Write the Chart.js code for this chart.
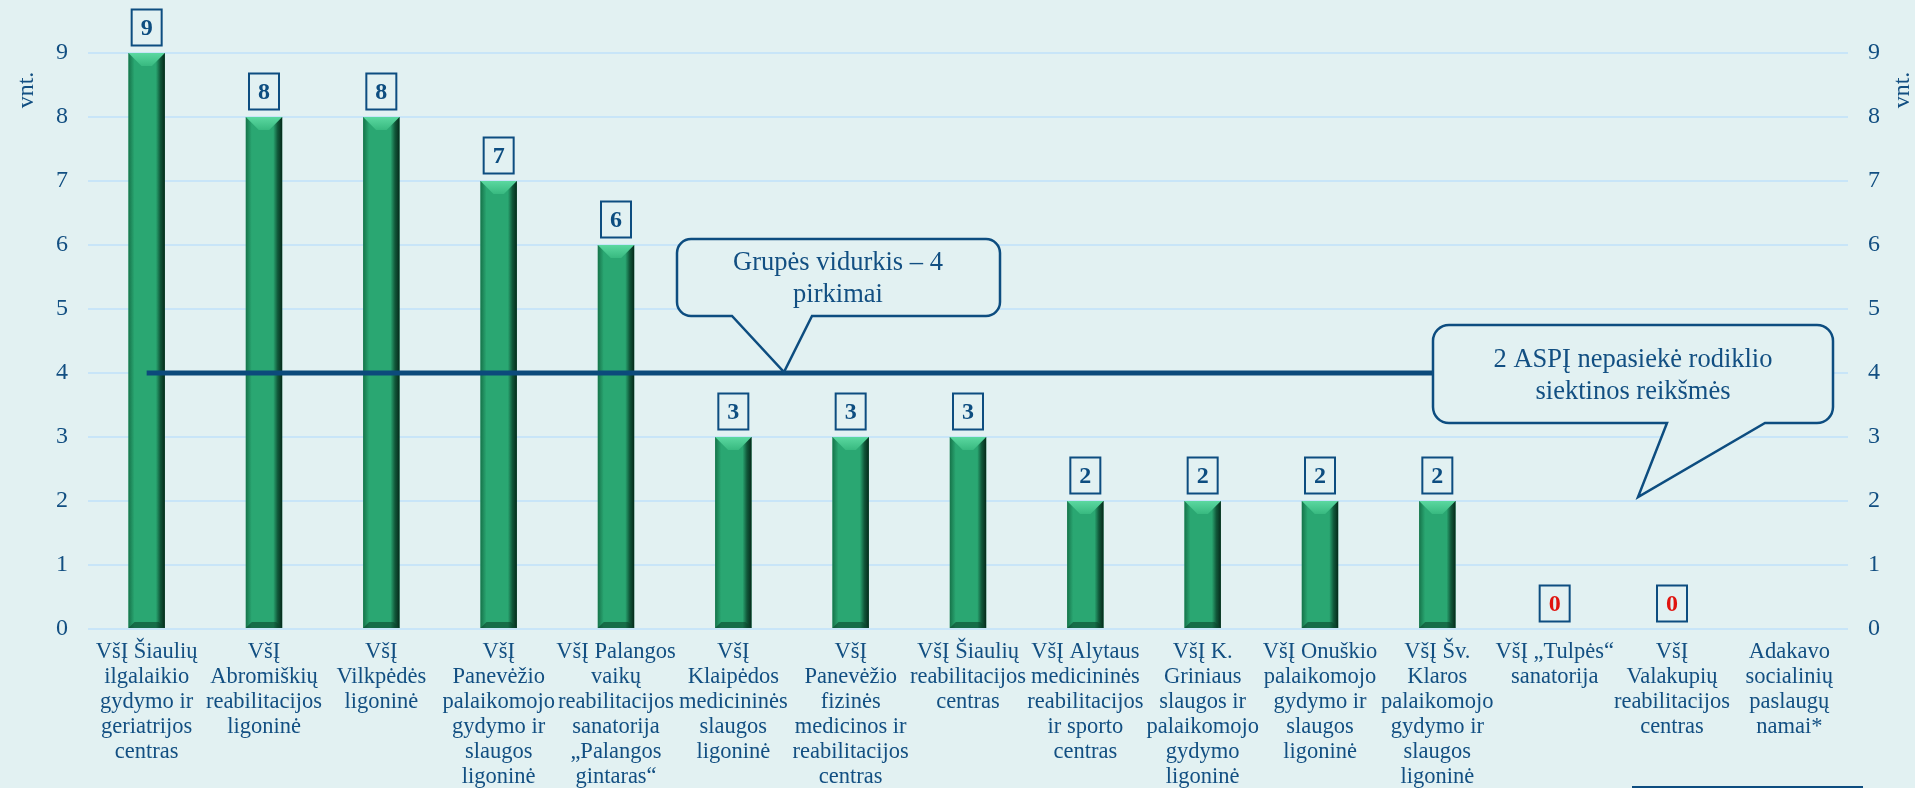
<!DOCTYPE html>
<html>
<head>
<meta charset="utf-8">
<script src="https://cdn.jsdelivr.net/npm/chart.js@4"></script>
<style>
  html, body { margin: 0; padding: 0; background: #e2f1f2; }
  #wrap { width: 1915px; height: 788px; position: relative; }
</style>
</head>
<body>
<div id="wrap"><canvas id="c" width="1915" height="788"></canvas></div>
<script>
const categories = [
  ["VšĮ Šiaulių", "ilgalaikio", "gydymo ir", "geriatrijos", "centras"],
  ["VšĮ", "Abromiškių", "reabilitacijos", "ligoninė"],
  ["VšĮ", "Vilkpėdės", "ligoninė"],
  ["VšĮ", "Panevėžio", "palaikomojo", "gydymo ir", "slaugos", "ligoninė"],
  ["VšĮ Palangos", "vaikų", "reabilitacijos", "sanatorija", "„Palangos", "gintaras“"],
  ["VšĮ", "Klaipėdos", "medicininės", "slaugos", "ligoninė"],
  ["VšĮ", "Panevėžio", "fizinės", "medicinos ir", "reabilitacijos", "centras"],
  ["VšĮ Šiaulių", "reabilitacijos", "centras"],
  ["VšĮ Alytaus", "medicininės", "reabilitacijos", "ir sporto", "centras"],
  ["VšĮ K.", "Griniaus", "slaugos ir", "palaikomojo", "gydymo", "ligoninė"],
  ["VšĮ Onuškio", "palaikomojo", "gydymo ir", "slaugos", "ligoninė"],
  ["VšĮ Šv.", "Klaros", "palaikomojo", "gydymo ir", "slaugos", "ligoninė"],
  ["VšĮ „Tulpės“", "sanatorija"],
  ["VšĮ", "Valakupių", "reabilitacijos", "centras"],
  ["Adakavo", "socialinių", "paslaugų", "namai*"]
];
const purchases = [9, 8, 8, 7, 6, 3, 3, 3, 2, 2, 2, 2, 0, 0, null];
const groupAverage = [4, 4, 4, 4, 4, 4, 4, 4, 4, 4, 4, 4, null, null, null];
const yTicks = [0, 1, 2, 3, 4, 5, 6, 7, 8, 9];
const axisTitle = "vnt.";
const callout1Lines = ["Grupės vidurkis – 4", "pirkimai"];
const callout2Lines = ["2 ASPĮ nepasiekė rodiklio", "siektinos reikšmės"];

const FONT = "'Liberation Serif', 'Times New Roman', serif";
const NAVY = "#0d4d80";
const TEXT = "#124f82";
const BG = "#e2f1f2";

const bgPlugin = {
  id: 'bg',
  beforeDraw(chart) {
    const ctx = chart.ctx;
    ctx.save();
    ctx.fillStyle = BG;
    ctx.fillRect(0, 0, chart.width, chart.height);
    ctx.restore();
  }
};

const bevelPlugin = {
  id: 'bevel',
  afterDatasetDraw(chart, args) {
    if (args.index !== 0) return;
    const ctx = chart.ctx;
    const meta = args.meta;
    ctx.save();
    meta.data.forEach((el, i) => {
      const v = purchases[i];
      if (v === null || v === 0) return;
      const w = el.width;
      const l = el.x - w / 2, r = el.x + w / 2, t = el.y, b = el.base;
      const d = Math.min(13, (b - t) / 2);
      // left face
      let g = ctx.createLinearGradient(l, 0, l + 6, 0);
      g.addColorStop(0, 'rgba(20,110,70,0.9)');
      g.addColorStop(1, 'rgba(20,110,70,0)');
      ctx.fillStyle = g;
      ctx.fillRect(l, t, 6, b - t);
      // right face
      g = ctx.createLinearGradient(r - 9, 0, r, 0);
      g.addColorStop(0, 'rgba(8,60,38,0)');
      g.addColorStop(0.5, 'rgba(8,60,38,0.75)');
      g.addColorStop(1, 'rgba(5,40,25,1)');
      ctx.fillStyle = g;
      ctx.fillRect(r - 9, t, 9, b - t);
      // top bevel
      ctx.beginPath();
      ctx.moveTo(l, t); ctx.lineTo(r, t);
      ctx.lineTo(r - d, t + d); ctx.lineTo(l + d, t + d);
      ctx.closePath();
      g = ctx.createLinearGradient(0, t, 0, t + d);
      g.addColorStop(0, '#5bd8a0');
      g.addColorStop(1, '#38b980');
      ctx.fillStyle = g;
      ctx.fill();
      // bottom bevel
      ctx.beginPath();
      ctx.moveTo(l, b); ctx.lineTo(r, b);
      ctx.lineTo(r - 6, b - 6); ctx.lineTo(l + 6, b - 6);
      ctx.closePath();
      ctx.fillStyle = 'rgba(10,70,45,0.6)';
      ctx.fill();
    });
    ctx.restore();
  }
};

const valueBoxPlugin = {
  id: 'valueBoxes',
  afterDatasetsDraw(chart) {
    const ctx = chart.ctx;
    const meta = chart.getDatasetMeta(0);
    ctx.save();
    meta.data.forEach((el, i) => {
      const v = purchases[i];
      if (v === null) return;
      const bw = 30, bh = 36;
      const bx = el.x - bw / 2, by = el.y - 7.5 - bh;
      ctx.strokeStyle = NAVY;
      ctx.lineWidth = 2;
      ctx.strokeRect(bx, by, bw, bh);
      ctx.fillStyle = v === 0 ? '#e0140f' : NAVY;
      ctx.font = "bold 24px " + FONT;
      ctx.textAlign = 'center';
      ctx.textBaseline = 'middle';
      ctx.fillText(String(v), el.x, by + bh / 2 + 1);
    });
    ctx.restore();
  }
};

function roundedCallout(ctx, x1, y1, x2, y2, rad, baseL, baseR, tipX, tipY) {
  ctx.beginPath();
  ctx.moveTo(x1 + rad, y1);
  ctx.lineTo(x2 - rad, y1);
  ctx.arcTo(x2, y1, x2, y1 + rad, rad);
  ctx.lineTo(x2, y2 - rad);
  ctx.arcTo(x2, y2, x2 - rad, y2, rad);
  ctx.lineTo(baseR, y2);
  ctx.lineTo(tipX, tipY);
  ctx.lineTo(baseL, y2);
  ctx.lineTo(x1 + rad, y2);
  ctx.arcTo(x1, y2, x1, y2 - rad, rad);
  ctx.lineTo(x1, y1 + rad);
  ctx.arcTo(x1, y1, x1 + rad, y1, rad);
  ctx.closePath();
  ctx.fillStyle = BG;
  ctx.fill();
  ctx.strokeStyle = NAVY;
  ctx.lineWidth = 2.5;
  ctx.lineJoin = 'miter';
  ctx.stroke();
}

const overlayPlugin = {
  id: 'overlay',
  afterDraw(chart) {
    const ctx = chart.ctx;
    ctx.save();
    // axis titles
    ctx.fillStyle = TEXT;
    ctx.font = "24px " + FONT;
    ctx.textAlign = 'center';
    ctx.textBaseline = 'middle';
    ctx.save();
    ctx.translate(27, 90);
    ctx.rotate(-Math.PI / 2);
    ctx.fillText(axisTitle, 0, 0);
    ctx.restore();
    ctx.save();
    ctx.translate(1903, 90);
    ctx.rotate(-Math.PI / 2);
    ctx.fillText(axisTitle, 0, 0);
    ctx.restore();

    // callouts
    roundedCallout(ctx, 677, 239, 1000, 316, 14, 732, 812, 784, 372);
    roundedCallout(ctx, 1433, 325, 1833, 423, 16, 1667, 1765, 1638, 497);
    ctx.fillStyle = TEXT;
    ctx.font = "26.5px " + FONT;
    ctx.textAlign = 'center';
    ctx.textBaseline = 'middle';
    ctx.fillText(callout1Lines[0], 838, 263);
    ctx.fillText(callout1Lines[1], 838, 295);
    ctx.fillText(callout2Lines[0], 1633, 360);
    ctx.fillText(callout2Lines[1], 1633, 392);

    // footnote frame edge at bottom right
    ctx.strokeStyle = NAVY;
    ctx.lineWidth = 2;
    ctx.beginPath();
    ctx.moveTo(1632, 787);
    ctx.lineTo(1863, 787);
    ctx.stroke();
    ctx.restore();
  }
};

new Chart(document.getElementById('c'), {
  data: {
    labels: categories,
    datasets: [
      {
        type: 'bar',
        data: purchases,
        backgroundColor: '#2aa772',
        borderWidth: 0,
        categoryPercentage: 1,
        barPercentage: 0.31,
        order: 1,
        yAxisID: 'y'
      },
      {
        type: 'line',
        data: groupAverage,
        borderColor: '#0c4a7b',
        borderWidth: 5,
        pointRadius: 0,
        fill: false,
        tension: 0,
        spanGaps: false,
        order: 0,
        yAxisID: 'y'
      }
    ]
  },
  options: {
    responsive: false,
    animation: false,
    events: [],
    layout: { padding: { top: 53, left: 0, right: 0, bottom: 0 } },
    plugins: {
      legend: { display: false },
      tooltip: { enabled: false },
      title: { display: false }
    },
    scales: {
      x: {
        grid: { display: false, drawTicks: false },
        border: { display: false },
        ticks: {
          autoSkip: false,
          maxRotation: 0,
          minRotation: 0,
          padding: 11,
          color: TEXT,
          font: { family: FONT, size: 22.5, lineHeight: 1.11 }
        },
        afterFit(scale) { scale.height = 159; }
      },
      y: {
        position: 'left',
        min: 0,
        max: 9,
        afterBuildTicks(scale) { scale.ticks = yTicks.map(v => ({ value: v })); },
        grid: { color: '#c8e5f8', lineWidth: 2, drawTicks: false },
        border: { display: false },
        ticks: {
          padding: 20,
          color: TEXT,
          font: { family: FONT, size: 24 }
        },
        afterFit(scale) { scale.width = 88; }
      },
      y2: {
        position: 'right',
        min: 0,
        max: 9,
        afterBuildTicks(scale) { scale.ticks = yTicks.map(v => ({ value: v })); },
        grid: { display: false, drawTicks: false },
        border: { display: false },
        ticks: {
          padding: 20,
          color: TEXT,
          font: { family: FONT, size: 24 }
        },
        afterFit(scale) { scale.width = 67; }
      }
    }
  },
  plugins: [bgPlugin, bevelPlugin, valueBoxPlugin, overlayPlugin]
});
</script>
</body>
</html>
